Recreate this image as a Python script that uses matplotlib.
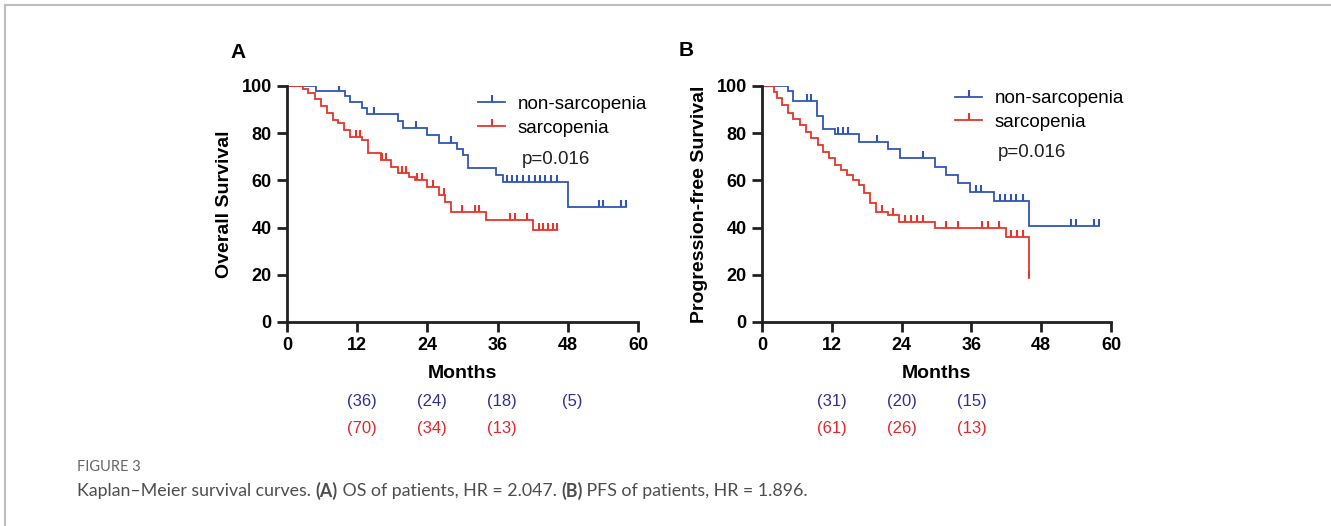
#!/usr/bin/env python3
"""
Kaplan-Meier curves (OS and PFS) for sarcopenia vs non-sarcopenia patients.
"""

import numpy as np
import matplotlib

matplotlib.use("Agg")
import matplotlib.pyplot as plt
from matplotlib.lines import Line2D

plt.rcParams["font.family"] = ["Liberation Sans", "DejaVu Sans"]

BLUE = "#2F56B5"
RED = "#E8352B"
RISK_BLUE = "#2E318F"
RISK_RED = "#E4262A"

# Panel A: overall survival (event months, survival % after each event, censor months)
os_non_t = [4.9, 9.9, 10.8, 12.9, 13.7, 18.9, 19.9, 24.0, 26.0, 29.0, 30.0, 31.0, 35.8, 37.0, 48.1]
os_non_s = [97.9, 95.8, 93.3, 90.5, 88.0, 85.3, 82.3, 79.1, 76.0, 73.3, 70.8, 65.4, 62.3, 59.2, 48.9]
os_non_cens = [8.9, 14.9, 22.0, 28.0, 37.6, 38.4, 39.4, 40.4, 41.4, 42.4, 43.2, 44.1,
               45.1, 46.1, 53.4, 54.1, 57.1, 57.9]
os_non_end = 57.9

os_sar_t = [2.8, 3.6, 4.8, 5.8, 6.8, 7.9, 8.8, 9.8, 10.8, 12.9, 13.8, 16.1, 17.8, 19.0,
            20.9, 21.9, 23.9, 25.9, 27.0, 28.0, 34.0, 42.0]
os_sar_s = [98.6, 97.1, 94.3, 91.4, 88.6, 85.7, 84.3, 81.4, 78.6, 77.1, 71.4, 68.6, 65.7,
            63.0, 61.5, 60.0, 57.1, 54.0, 51.0, 46.8, 43.4, 39.0]
os_sar_cens = [11.8, 12.5, 16.2, 16.9, 19.6, 20.3, 22.2, 23.0, 24.9, 26.9, 29.9, 32.1,
               32.8, 38.1, 39.0, 41.0, 43.0, 43.8, 44.7, 45.5, 46.2]
os_sar_end = 46.2

# Panel B: progression-free survival
pfs_non_t = [4.5, 5.4, 9.5, 10.5, 12.5, 16.7, 21.7, 23.7, 29.7, 31.7, 33.7, 35.8, 39.9, 45.9]
pfs_non_s = [97.9, 93.6, 87.3, 81.6, 79.5, 76.4, 73.2, 69.6, 65.8, 62.3, 59.0, 55.2, 51.3, 40.7]
pfs_non_cens = [7.7, 8.5, 13.1, 13.9, 14.7, 19.7, 27.7, 36.8, 37.7, 40.9, 41.8, 42.8,
                43.7, 44.9, 53.1, 53.9, 57.0, 58.0]
pfs_non_end = 58.0

pfs_sar_t = [2.0, 2.5, 3.4, 4.4, 5.4, 6.5, 7.5, 8.4, 9.6, 10.5, 11.5, 12.5, 13.6, 14.6,
             15.7, 16.7, 17.6, 18.5, 19.6, 21.6, 23.6, 29.7, 41.9, 45.9]
pfs_sar_s = [97.5, 95.0, 91.8, 88.5, 86.0, 83.5, 80.6, 77.8, 75.0, 72.2, 69.4, 66.5, 64.4,
             62.3, 60.2, 58.2, 54.5, 50.5, 46.7, 45.3, 42.3, 40.0, 35.9, 18.5]
pfs_sar_cens = [1.5, 20.6, 22.6, 24.6, 25.6, 26.6, 27.7, 31.7, 33.7, 37.9, 38.8, 40.8,
                42.8, 43.9, 44.9, 45.9]
pfs_sar_end = 45.9

# numbers at risk
risk_months = [12, 24, 36, 48]
os_risk_non = ["(36)", "(24)", "(18)", "(5)"]
os_risk_sar = ["(70)", "(34)", "(13)"]
pfs_risk_non = ["(31)", "(20)", "(15)"]
pfs_risk_sar = ["(61)", "(26)", "(13)"]

x_ticks = [0, 12, 24, 36, 48, 60]
y_ticks = [0, 20, 40, 60, 80, 100]


def level_at(times, surv, t):
    idx = np.searchsorted(times, t, side="right")
    return 100.0 if idx == 0 else surv[idx - 1]


def draw_km(ax, times, surv, cens, end, color):
    xs = [0] + list(times) + [end]
    ys = [100] + list(surv) + [surv[-1]]
    ax.step(xs, ys, where="post", color=color, lw=1.3, solid_joinstyle="miter")
    cy = [level_at(times, surv, c) for c in cens]
    # censor ticks pointing upward
    ax.plot(cens, cy, ls="none", marker=2, ms=5, mew=1.5, color=color)


def style_axes(ax, ylabel):
    ax.set_xlim(0, 60)
    ax.set_ylim(0, 100)
    ax.set_xticks(x_ticks)
    ax.set_yticks(y_ticks)
    for side in ("top", "right"):
        ax.spines[side].set_visible(False)
    for side in ("left", "bottom"):
        ax.spines[side].set_linewidth(2.0)
        ax.spines[side].set_color("#231F20")
    ax.tick_params(direction="out", length=7, width=2.0, color="#231F20",
                   labelsize=13, pad=4)
    for lab in ax.get_xticklabels() + ax.get_yticklabels():
        lab.set_fontweight("bold")
    ax.set_xlabel("Months", fontsize=14, fontweight="bold", labelpad=8)
    ax.set_ylabel(ylabel, fontsize=14, fontweight="bold", labelpad=6)


def add_legend(ax, x0, y0, p_xy):
    handles = [
        Line2D([0], [0], color=BLUE, lw=1.3, marker=2, ms=5, mew=1.5),
        Line2D([0], [0], color=RED, lw=1.3, marker=2, ms=5, mew=1.5),
    ]
    ax.legend(handles, ["non-sarcopenia", "sarcopenia"], loc="upper left",
              bbox_to_anchor=(x0, y0), frameon=False, fontsize=13.5,
              handlelength=1.45, handletextpad=0.65, labelspacing=0.35,
              borderaxespad=0, borderpad=0)
    ax.text(p_xy[0], p_xy[1], "p=0.016", transform=ax.transAxes, fontsize=13.5,
            ha="left", va="center", color="#231F20")


def add_risk(ax, non_labels, sar_labels, shift):
    trans = ax.get_xaxis_transform()
    for m, lab in zip(risk_months, non_labels):
        ax.text(m + shift, -0.335, lab, transform=trans, ha="center", va="center",
                fontsize=12, color=RISK_BLUE, clip_on=False)
    for m, lab in zip(risk_months, sar_labels):
        ax.text(m + shift, -0.45, lab, transform=trans, ha="center", va="center",
                fontsize=12, color=RISK_RED, clip_on=False)


fig = plt.figure(figsize=(13.31, 5.26), dpi=100)

ax_a = fig.add_axes([287 / 1331, 1 - 322 / 526, 351 / 1331, 236 / 526])
draw_km(ax_a, os_non_t, os_non_s, os_non_cens, os_non_end, BLUE)
draw_km(ax_a, os_sar_t, os_sar_s, os_sar_cens, os_sar_end, RED)
style_axes(ax_a, "Overall Survival")
add_legend(ax_a, 0.544, 0.958, (0.67, 0.69))
add_risk(ax_a, os_risk_non, os_risk_sar, 0.8)

ax_b = fig.add_axes([762 / 1331, 1 - 322 / 526, 349 / 1331, 236 / 526])
draw_km(ax_b, pfs_non_t, pfs_non_s, pfs_non_cens, pfs_non_end, BLUE)
draw_km(ax_b, pfs_sar_t, pfs_sar_s, pfs_sar_cens, pfs_sar_end, RED)
style_axes(ax_b, "Progression-free Survival")
add_legend(ax_b, 0.553, 0.982, (0.676, 0.72))
add_risk(ax_b, pfs_risk_non, pfs_risk_sar, 0.0)

fig.text(238 / 1331, 1 - 53 / 526, "A", fontsize=15, fontweight="bold",
         ha="center", va="center")
fig.text(686 / 1331, 1 - 50 / 526, "B", fontsize=15, fontweight="bold",
         ha="center", va="center")

# caption
fig.text(77 / 1331, 1 - 467 / 526, "FIGURE 3", fontsize=10.5, color="#666666",
         family=["Lato", "DejaVu Sans"], va="center")
cap_y = 1 - 491 / 526
parts = [
    ("Kaplan\u2013Meier survival curves. ", "normal"),
    ("(A)", "bold"),
    (" OS of patients, HR = 2.047. ", "normal"),
    ("(B)", "bold"),
    (" PFS of patients, HR = 1.896.", "normal"),
]
renderer = fig.canvas.get_renderer()
x = 77 / 1331
for txt, wt in parts:
    t = fig.text(x, cap_y, txt, fontsize=12.8, color="#4D4D4D", fontweight=wt,
                 family=["Lato", "DejaVu Sans"], va="center")
    bb = t.get_window_extent(renderer=renderer)
    x += bb.width / fig.bbox.width

# page frame lines (top and left)
fig.add_artist(Line2D([5 / 1331, 1], [1 - 5 / 526, 1 - 5 / 526], color="#BDBDBD", lw=1.5))
fig.add_artist(Line2D([5 / 1331, 5 / 1331], [0, 1 - 5 / 526], color="#BDBDBD", lw=1.5))

fig.savefig("out.png", dpi=100)
